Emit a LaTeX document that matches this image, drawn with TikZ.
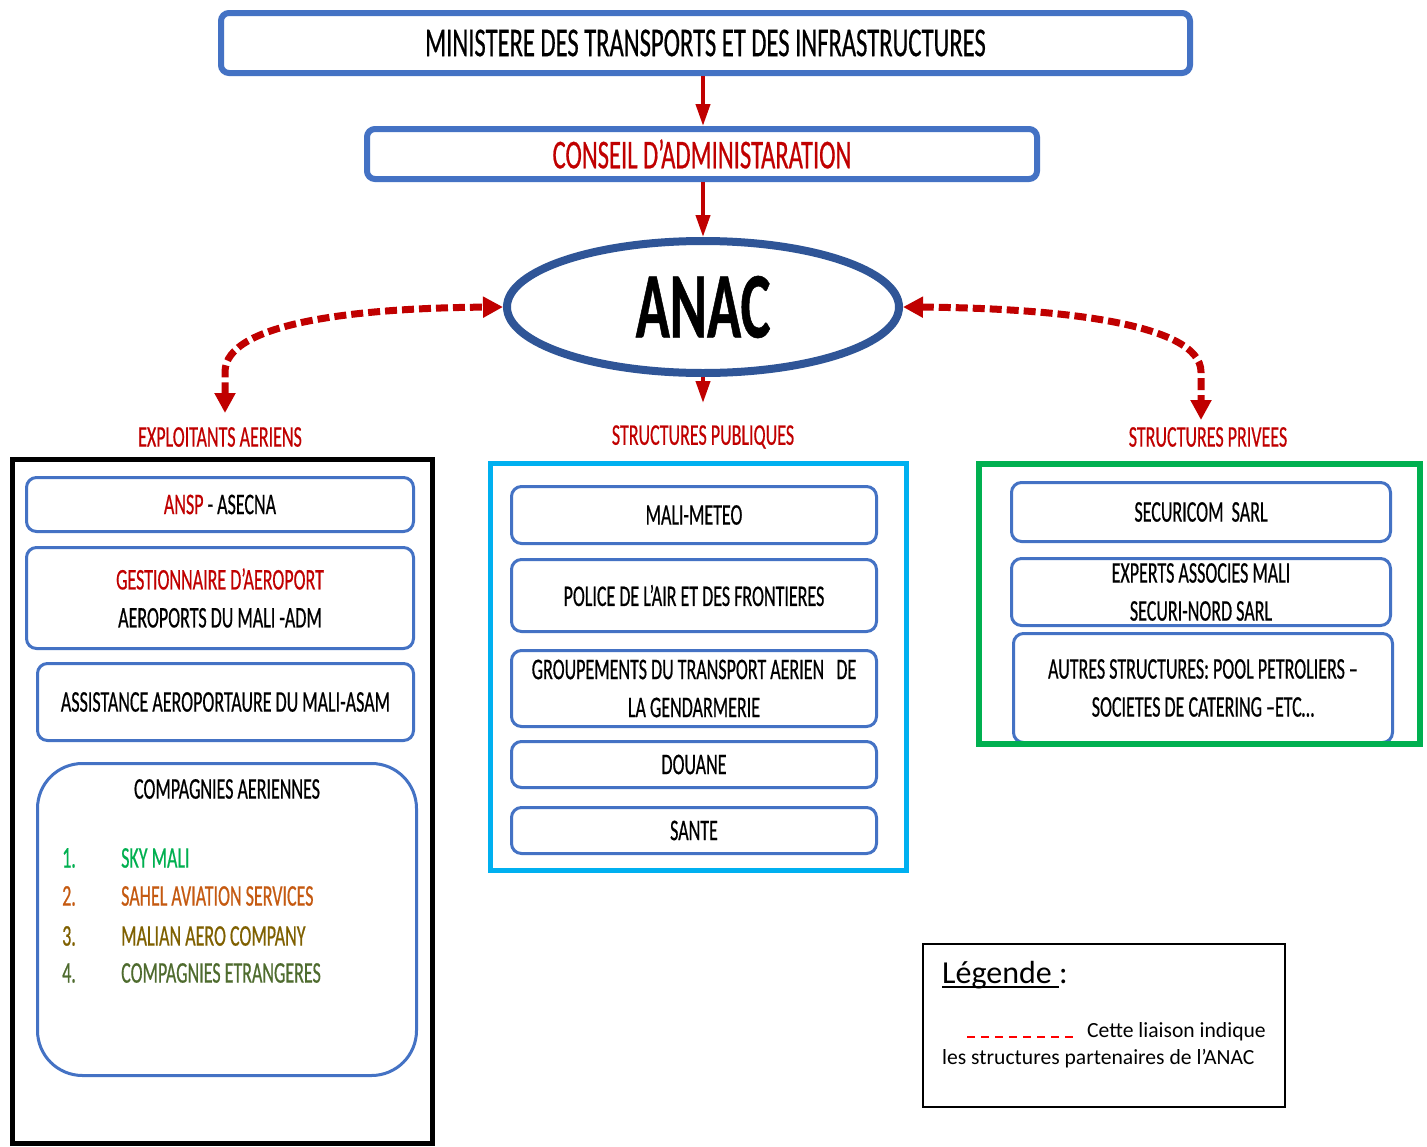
\documentclass[tikz,border=0pt]{standalone}
\usepackage{fontspec}
\setmainfont{Carlito}
\newfontfamily\condfont[FakeStretch=0.6,FakeBold=0.5]{Carlito}
\usepackage{tikz}
\usetikzlibrary{shapes.geometric}
\usetikzlibrary{arrows.meta}
\usepackage{xcolor}
\definecolor{boxblue}{HTML}{4472C4}
\definecolor{anacblue}{HTML}{2F5597}
\definecolor{darkred}{HTML}{C00000}
\definecolor{pubcyan}{HTML}{00B0F0}
\definecolor{privgreen}{HTML}{00B050}
\definecolor{skygreen}{HTML}{00B050}
\definecolor{sahelorange}{HTML}{C55A11}
\definecolor{malianolive}{HTML}{7F6000}
\definecolor{etrgreen}{HTML}{4E6B2E}
\newcommand{\legul}[1]{\setbox0\hbox{#1}\rlap{\rule[-5pt]{\wd0}{2.5pt}}\box0}
\tikzset{
  topbox/.style={draw=boxblue, line width=6pt, rounded corners=8pt, fill=white, inner sep=0pt, font=\condfont\fontsize{41}{43}\selectfont},
  itembox/.style={draw=boxblue, line width=3pt, rounded corners=10pt, fill=white, inner sep=0pt, align=center, font=\condfont\fontsize{30}{38}\selectfont},
  panel/.style={line width=5pt, inner sep=0pt},
  header/.style={text=darkred, inner sep=0pt, font=\condfont\fontsize{30}{32}\selectfont},
  listitem/.style={anchor=west, inner sep=0pt, font=\condfont\fontsize{30}{32}\selectfont},
  legendtext/.style={anchor=west, inner sep=0pt, font=\fontsize{21.6}{24}\selectfont},
  linkarrow/.style={draw=darkred, line width=4pt, -{Triangle[length=22pt,width=14pt]}},
  partner/.style={draw=darkred, line width=7pt, dash pattern=on 12pt off 5pt, {Triangle[length=20pt,width=20pt]}-{Triangle[length=20pt,width=20pt]}},
}
\begin{document}
\begin{tikzpicture}[scale=1.000000,x=1pt,y=-1pt]
\useasboundingbox (0.000000,0.000000) rectangle (1427.000000,1146.000000);
\fill[white] (0.000000,0.000000) rectangle (1427.000000,1146.000000);
% Drawing hierarchy
\node[topbox, minimum width=969pt, minimum height=60pt] (ministere) at (705.500000, 43.000000) {MINISTERE DES TRANSPORTS ET DES INFRASTRUCTURES};
\node[topbox, minimum width=670pt, minimum height=50pt, text=darkred] (conseil) at (702.000000, 154.000000) {CONSEIL D’ADMINISTARATION};
\node[ellipse, draw=anacblue, line width=8pt, fill=white, minimum width=392pt, minimum height=132pt, inner sep=0pt, font=\condfont\bfseries\fontsize{94}{94}\selectfont] (anac) at (703.000000, 307.000000) {ANAC};
\draw[linkarrow] (ministere.south -| anac) -- (conseil.north -| anac);
\draw[linkarrow] (conseil.south -| anac) -- (anac.north);
% Done with hierarchy
% Drawing headers
\node[header] (expl) at (220.000000, 437.000000) {EXPLOITANTS AERIENS};
\node[header] (publ) at (703.000000, 437.000000) {STRUCTURES PUBLIQUES};
\node[header] (priv) at (1208.000000, 437.000000) {STRUCTURES PRIVEES};
\coordinate (expltip) at (225.000000, 413.000000);
\coordinate (publtip) at (703.000000, 403.000000);
\coordinate (privtip) at (1201.000000, 420.000000);
\draw[linkarrow] (anac.south) -- (publtip);
% Partner links
\draw[partner] (expltip) -- (225.000000, 372.000000) .. controls (225.000000, 322.000000) and (360.000000, 308.000000) .. (anac.west);
\draw[partner] (anac.east) .. controls (1050.000000, 308.000000) and (1201.000000, 322.000000) .. (1201.000000, 372.000000) -- (privtip);
% Done with headers
% Drawing panels
\node[panel, draw=black, minimum width=420pt, minimum height=684pt] (explpanel) at (222.500000, 801.500000) {};
\node[panel, draw=pubcyan, minimum width=416pt, minimum height=407pt] (publpanel) at (698.500000, 667.000000) {};
% Left panel: exploitants
\node[itembox, minimum width=387pt, minimum height=54pt] (ansp) at (220.000000, 504.500000) {{\color{darkred}ANSP} - ASECNA};
\node[itembox, minimum width=387pt, minimum height=101pt] (gest) at (220.000000, 598.000000) {{\color{darkred}GESTIONNAIRE D’AEROPORT}\\AEROPORTS DU MALI -ADM};
\node[itembox, minimum width=376pt, minimum height=77pt] (asam) at (225.500000, 702.000000) {ASSISTANCE AEROPORTAURE DU MALI-ASAM};
\node[itembox, rounded corners=45pt, minimum width=379pt, minimum height=312pt] (comp) at (227.000000, 919.500000) {};
\node[inner sep=0pt, font=\condfont\fontsize{30}{32}\selectfont] (comptitle) at (227.000000, 789.000000) {COMPAGNIES AERIENNES};
\node[listitem, text=skygreen] (num1) at (62.000000, 858.000000) {1.};
\node[listitem, text=skygreen] (cie1) at (121.000000, 858.000000) {SKY MALI};
\node[listitem, text=sahelorange] (num2) at (62.000000, 896.000000) {2.};
\node[listitem, text=sahelorange] (cie2) at (121.000000, 896.000000) {SAHEL AVIATION SERVICES};
\node[listitem, text=malianolive] (num3) at (62.000000, 936.000000) {3.};
\node[listitem, text=malianolive] (cie3) at (121.000000, 936.000000) {MALIAN AERO COMPANY};
\node[listitem, text=etrgreen] (num4) at (62.000000, 973.000000) {4.};
\node[listitem, text=etrgreen] (cie4) at (121.000000, 973.000000) {COMPAGNIES ETRANGERES};
% Middle panel: publiques
\node[itembox, minimum width=365pt, minimum height=57pt] (meteo) at (694.000000, 515.000000) {MALI-METEO};
\node[itembox, minimum width=365pt, minimum height=72pt] (police) at (694.000000, 595.500000) {POLICE DE L’AIR ET DES FRONTIERES};
\node[itembox, minimum width=365pt, minimum height=76pt] (gtag) at (694.000000, 688.500000) {GROUPEMENTS DU TRANSPORT AERIEN\ \ \ DE\\LA GENDARMERIE};
\node[itembox, minimum width=365pt, minimum height=46pt] (douane) at (694.000000, 764.500000) {DOUANE};
\node[itembox, minimum width=365pt, minimum height=46pt] (sante) at (694.000000, 830.500000) {SANTE};
% Right panel: privees
\node[itembox, minimum width=379pt, minimum height=59pt] (securicom) at (1201.000000, 512.000000) {SECURICOM\ \ SARL};
\node[itembox, minimum width=379pt, minimum height=67pt] (experts) at (1201.000000, 592.000000) {EXPERTS ASSOCIES MALI\\SECURI-NORD SARL};
\node[itembox, minimum width=379pt, minimum height=109pt] (autres) at (1203.000000, 688.000000) {AUTRES STRUCTURES: POOL PETROLIERS –\\SOCIETES DE CATERING –ETC…};
\node[panel, draw=privgreen, line width=6pt, minimum width=441pt, minimum height=280pt] (privpanel) at (1199.500000, 604.000000) {};
% Done with panels
% Drawing legend
\node[draw, line width=2pt, minimum width=362pt, minimum height=163pt, inner sep=0pt] (legend) at (1104.000000, 1025.500000) {};
\node[anchor=west, inner sep=0pt, font=\fontsize{32}{34}\selectfont] (legtitle) at (942.000000, 975.000000) {\legul{Légende\ }:};
\coordinate (legA) at (967.000000, 1037.000000);
\coordinate (legB) at (1073.000000, 1037.000000);
\draw[red, line width=2pt, dash pattern=on 8pt off 6pt] (legA) -- (legB);
\node[legendtext] (legline1) at (1087.000000, 1032.000000) {Cette liaison indique};
\node[legendtext] (legline2) at (942.000000, 1059.000000) {les structures partenaires de l’ANAC};
% Done with legend
\end{tikzpicture}
\end{document}
